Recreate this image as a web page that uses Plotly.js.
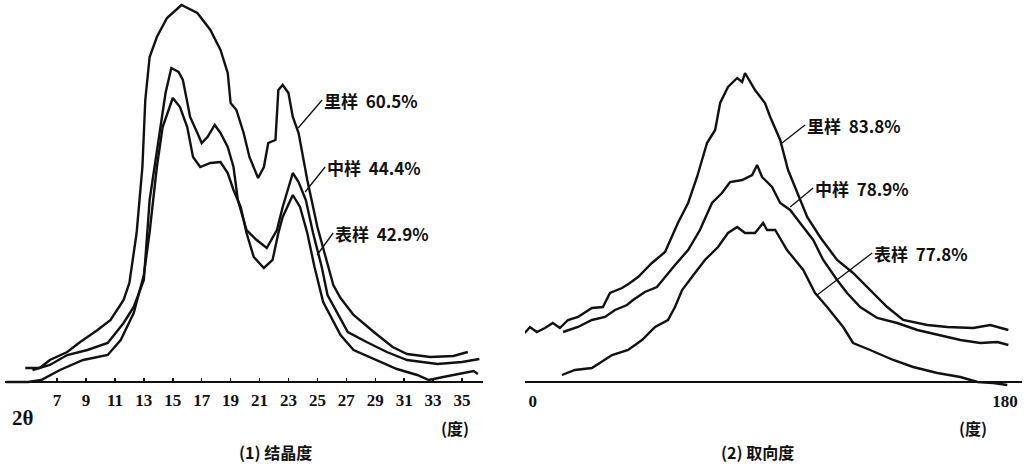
<!DOCTYPE html>
<html>
<head>
<meta charset="utf-8">
<script src="https://cdn.plot.ly/plotly-3.0.1.min.js"></script>
<style>html,body{margin:0;padding:0;background:#fff;}#chart{width:1027px;height:467px;}</style>
</head>
<body>
<div id="chart"></div>
<script>
// ---- (1) 结晶度 : 2θ scans ----
const crystTickVals = [7, 9, 11, 13, 15, 17, 19, 21, 23, 25, 27, 29, 31, 33, 35];
const crystTickText = ["7", "9", "11", "13", "15", "17", "19", "21", "23", "25", "27", "29", "31", "33", "35"];

const liTheta = [4.8, 5.8, 6.5, 7.7, 8.6, 9.8, 10.7, 11.6, 12.0, 12.5, 12.9, 13.1, 13.4, 13.9, 14.6, 15.6, 16.7, 17.6, 18.3, 18.8, 19.0, 19.4, 19.9, 20.3, 20.9, 21.3, 21.6, 22.1, 22.3, 22.6, 23.0, 23.3, 23.7, 24.3, 25.0, 25.7, 26.1, 26.6, 27.5, 28.9, 30.2, 31.2, 32.8, 34.4, 35.4];
const liI     = [14, 14, 22, 30, 40, 52, 62, 82, 99, 149, 215, 282, 325, 345, 364, 377, 369, 352, 332, 309, 279, 272, 249, 225, 204, 215, 239, 242, 292, 297, 289, 265, 249, 202, 155, 118, 97, 84, 67, 50, 35, 28, 25, 26, 30];

const zhongTheta = [5.3, 6.5, 7.7, 9.1, 10.5, 11.6, 12.3, 13.0, 13.4, 14.1, 14.5, 14.9, 15.4, 15.7, 16.2, 16.7, 17.0, 17.4, 17.9, 18.3, 18.8, 19.2, 19.5, 20.1, 20.8, 21.5, 22.2, 22.6, 23.0, 23.3, 23.7, 24.2, 24.7, 25.3, 25.7, 27.1, 28.4, 29.8, 31.2, 33.3, 35.0, 36.2];
const zhongI     = [12, 17, 27, 32, 39, 59, 75, 102, 182, 249, 289, 314, 310, 302, 265, 249, 239, 245, 257, 249, 235, 215, 182, 152, 142, 134, 152, 175, 195, 209, 200, 182, 149, 115, 87, 50, 40, 30, 22, 18, 20, 23];

const biaoTheta = [3.5, 5.0, 5.9, 7.2, 8.8, 10.5, 11.4, 12.3, 13.0, 13.4, 13.9, 14.3, 15.0, 15.5, 16.0, 16.4, 16.9, 17.6, 18.3, 18.8, 19.2, 19.7, 20.1, 20.6, 21.3, 21.9, 22.3, 22.6, 23.3, 23.8, 24.3, 24.8, 25.4, 26.6, 27.5, 28.9, 30.5, 31.9, 32.7, 33.7, 34.9, 35.8, 36.1];
const biaoI     = [0, 0, 2, 12, 22, 27, 42, 69, 107, 150, 215, 255, 284, 275, 255, 225, 215, 219, 220, 209, 192, 175, 149, 125, 114, 122, 149, 165, 187, 175, 149, 115, 80, 47, 32, 23, 13, 7, 2, 5, 8, 11, 8];

// ---- (2) 取向度 : azimuthal scans ----
const orientTickVals = [0, 180];
const orientTickText = ["0", "180"];

const liAng = [-3.1, -1.1, 1.5, 4.6, 7.6, 10.3, 13.4, 17.2, 22.5, 26.7, 29.4, 34.0, 37.0, 40.1, 45.4, 50.4, 55.3, 59.2, 62.6, 66.4, 69.5, 71.4, 74.4, 77.9, 79.8, 80.9, 84.7, 88.5, 90.5, 94.3, 97.3, 100.8, 104.6, 109.5, 116.0, 122.1, 128.6, 135.1, 141.2, 150.4, 158.0, 167.9, 174.4, 181.3];
const liOr  = [49, 55, 50, 54, 59, 54, 62, 65, 74, 75, 89, 94, 99, 105, 119, 130, 159, 179, 205, 239, 252, 279, 295, 304, 300, 309, 292, 279, 265, 242, 212, 189, 165, 145, 122, 109, 92, 75, 62, 57, 55, 54, 57, 52];

const zhongAng = [11.5, 17.2, 22.5, 27.5, 31.3, 35.9, 38.2, 42.7, 47.3, 50.4, 54.2, 59.2, 63.7, 68.3, 72.1, 75.2, 79.8, 83.6, 85.5, 87.4, 91.2, 94.3, 98.1, 101.9, 106.9, 110.7, 116.0, 119.8, 124.8, 131.3, 138.9, 146.6, 155.3, 163.0, 170.6, 177.1, 181.3];
const zhongOr  = [50, 55, 62, 65, 72, 77, 82, 90, 95, 105, 117, 132, 152, 179, 189, 200, 202, 207, 217, 205, 195, 179, 172, 159, 142, 122, 102, 89, 75, 64, 59, 52, 47, 42, 39, 40, 37];

const biaoAng = [11.1, 16.0, 22.5, 30.2, 36.3, 41.6, 46.6, 51.5, 54.2, 56.9, 61.8, 65.6, 70.6, 74.4, 77.9, 80.9, 84.7, 87.8, 89.3, 92.4, 96.9, 103.1, 107.6, 112.2, 118.3, 122.1, 128.6, 137.4, 145.0, 154.2, 163.0, 169.5, 175.6, 180.9];
const biaoOr  = [7, 12, 14, 27, 32, 42, 55, 62, 75, 92, 109, 122, 135, 149, 155, 149, 149, 159, 152, 152, 132, 112, 89, 75, 55, 39, 32, 22, 15, 9, 5, 0, -1, -3];

const crystLabels = ["里样  60.5%", "中样  44.4%", "表样  42.9%"];
const orientLabels = ["里样  83.8%", "中样  78.9%", "表样  77.8%"];

const W = 1027, H = 467;
const px = v => v / W;
const py = v => 1 - v / H;

const lineStyle = {color: '#111', width: 2.4};
const traces = [
  {x: liTheta, y: liI, xaxis: 'x', yaxis: 'y'},
  {x: zhongTheta, y: zhongI, xaxis: 'x', yaxis: 'y'},
  {x: biaoTheta, y: biaoI, xaxis: 'x', yaxis: 'y'},
  {x: liAng, y: liOr, xaxis: 'x2', yaxis: 'y2'},
  {x: zhongAng, y: zhongOr, xaxis: 'x2', yaxis: 'y2'},
  {x: biaoAng, y: biaoOr, xaxis: 'x2', yaxis: 'y2'}
].map(t => Object.assign(t, {type: 'scatter', mode: 'lines', line: lineStyle, hoverinfo: 'skip', showlegend: false}));

const tickFont = {family: 'Liberation Serif, DejaVu Serif, serif', size: 17, weight: 'bold', color: '#111'};
const axisPos = (H - 382) / H;

const yCommon = {range: [-85, 382], showgrid: false, showticklabels: false, ticks: '',
  zeroline: true, zerolinecolor: '#111', zerolinewidth: 2.5, showline: false, fixedrange: true};

const labelFont = {family: 'Noto Sans CJK SC, sans-serif', size: 17, weight: 'bold', color: '#111'};
function leader(xr, yr, x, y, ax, ay, text) {
  return {xref: xr, yref: yr, x: x, y: y, ax: ax, ay: ay, text: text, showarrow: true,
    arrowhead: 0, arrowwidth: 1.3, arrowcolor: '#111', xanchor: 'left', yanchor: 'middle',
    font: labelFont, standoff: 0, startstandoff: 0};
}
function plain(x, y, text, font, xanchor) {
  return {xref: 'paper', yref: 'paper', x: px(x), y: py(y), text: text, showarrow: false,
    xanchor: xanchor || 'center', yanchor: 'middle', font: font};
}
const capFont = {family: 'Noto Sans CJK SC, sans-serif', size: 16, weight: 'bold', color: '#111'};

const layout = {
  width: W, height: H,
  margin: {l: 0, r: 0, t: 0, b: 0},
  paper_bgcolor: '#fff', plot_bgcolor: '#fff',
  xaxis: {domain: [px(5), px(483)], range: [3.4, 36.45], anchor: 'free', position: axisPos,
    showgrid: false, zeroline: false, showline: false,
    tickvals: crystTickVals, ticktext: crystTickText, ticks: 'inside', ticklen: 4, tickwidth: 1.5,
    tickcolor: '#111', tickfont: tickFont, ticklabelstandoff: 6, fixedrange: true},
  yaxis: Object.assign({anchor: 'x', domain: [0, 1]}, yCommon),
  xaxis2: {domain: [px(525), px(1022)], range: [-3, 186.5], anchor: 'free', position: axisPos,
    showgrid: false, zeroline: false, showline: false,
    tickvals: orientTickVals, ticktext: orientTickText, ticks: '', tickfont: tickFont,
    ticklabelstandoff: 7, fixedrange: true},
  yaxis2: Object.assign({anchor: 'x2', domain: [0, 1]}, yCommon),
  annotations: [
    leader('x', 'y', 23.67, 254, 24, -28, crystLabels[0]),
    leader('x', 'y', 24.15, 190, 20, -25, crystLabels[1]),
    leader('x', 'y', 24.98, 127, 16, -22, crystLabels[2]),
    leader('x2', 'y2', 95.0, 239, 23, -18, orientLabels[0]),
    leader('x2', 'y2', 98.1, 175, 23, -19, orientLabels[1]),
    leader('x2', 'y2', 108.4, 87, 55, -42, orientLabels[2]),
    plain(23, 418, '2θ', {family: 'Liberation Serif, serif', size: 21, weight: 'bold', color: '#111'}),
    plain(455, 428, '(度)', capFont),
    plain(275, 452, '(1) 结晶度', capFont),
    plain(973, 428, '(度)', capFont),
    plain(757, 452, '(2) 取向度', capFont)
  ]
};

Plotly.newPlot('chart', traces, layout, {staticPlot: true, displayModeBar: false});
</script>
</body>
</html>
